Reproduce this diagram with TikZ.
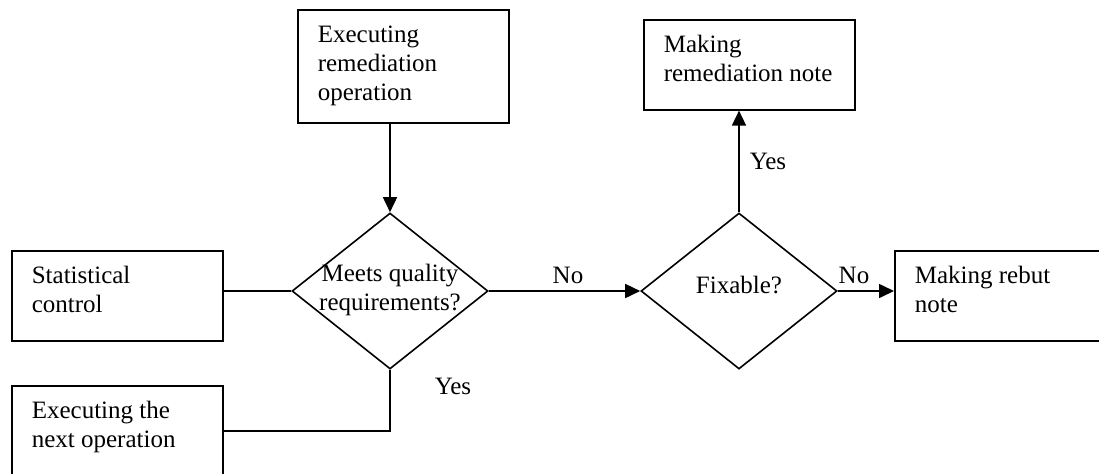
\documentclass[tikz,border=0pt]{standalone}
\usepackage{fontspec}
\setmainfont{Liberation Serif}
\usetikzlibrary{arrows.meta,shapes.geometric}

% text of a process box: fixed height, first baseline 16.5pt below the top
\newcommand\boxtext[2]{\parbox[t][#1][t]{85.5pt}{\raggedright\rule{0pt}{16.5pt}#2}}
% centred text that does not enlarge the node around it
\newcommand\zerobox[2]{\makebox[0pt]{\raisebox{#1}[0pt][0pt]{\begin{tabular}{@{}c@{}}#2\end{tabular}}}}

\begin{document}
\begin{tikzpicture}[x=0.5pt,y=-0.5pt,
  every node/.style={font=\fontsize{12.5pt}{14.5pt}\selectfont},
  stepbox/.style={draw, line width=0.8pt, rectangle, anchor=north west,
                  inner xsep=10pt, inner ysep=0pt},
  decision/.style={draw, line width=0.8pt, diamond, minimum width=98pt,
                   minimum height=78pt, inner sep=0pt},
  lab/.style={inner sep=0pt},
  link/.style={line width=0.8pt},
  flow/.style={link, -{Triangle[length=7.5pt,width=7pt]}}]
\useasboundingbox (0,0) rectangle (1099,473);
\clip (0,0) rectangle (1099,473);

% process boxes
\node[stepbox] (ro)  at (297,9)   {\boxtext{56.5pt}{Executing\\remediation\\operation}};
\node[stepbox] (sc)  at (11,250)  {\boxtext{45pt}{Statistical\\control}};
\node[stepbox] (nx)  at (11,385)  {\boxtext{45pt}{Executing the\\next operation}};
\node[stepbox] (mrn) at (643,19)  {\boxtext{45pt}{Making\\remediation note}};
\node[stepbox] (rb)  at (894,250) {\boxtext{45pt}{Making rebut\\note}};

% decisions
\node[decision] (d1) at (390,291) {\zerobox{-2.5pt}{Meets quality\\requirements?}};
\node[decision] (d2) at (739,291) {\zerobox{-1.2pt}{Fixable?}};

% connectors
\draw[flow] (d1.north |- ro.south) -- (d1.north);
\draw[link] (d1.west -| sc.east) -- (d1.west);
\draw[link] (d1.south) |- (nx.east);
\draw[flow] (d1.east) -- (d2.west);
\draw[flow] (d2.north) -- (d2.north |- mrn.south);
\draw[flow] (d2.east) -- (d2.east -| rb.west);

% branch labels
\node[lab] (yes1) at (453,386) {Yes};
\node[lab] (no1)  at (568,275) {No};
\node[lab] (yes2) at (768,161) {Yes};
\node[lab] (no2)  at (854,275) {No};
\end{tikzpicture}
\end{document}
